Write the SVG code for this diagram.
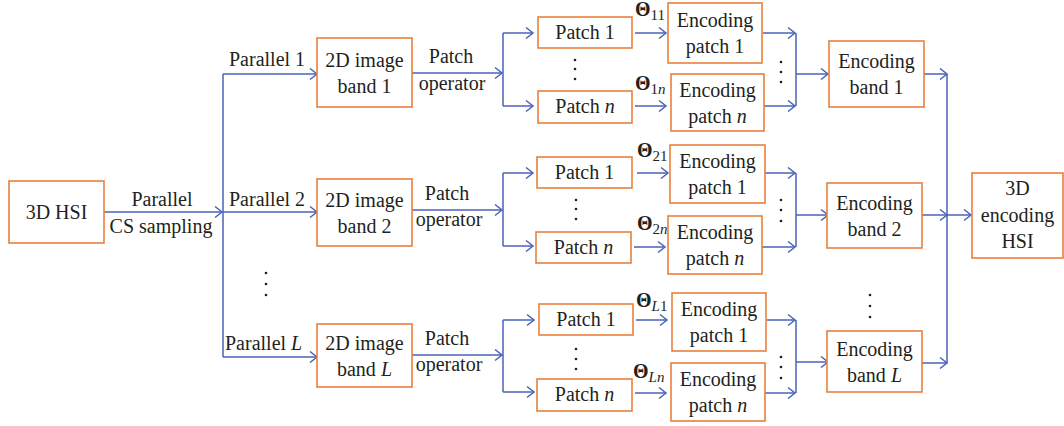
<svg xmlns="http://www.w3.org/2000/svg" width="1064" height="426" viewBox="0 0 1064 426">
<style>
.box{fill:#fff;stroke:#E8803E;stroke-width:1.6}
text{font-family:'Liberation Serif','DejaVu Serif',serif;font-size:20px;fill:#231f20}
.t{text-anchor:middle}
.c{fill:none;stroke:#4A62B8;stroke-width:1.5}
.a{fill:none;stroke:#4A62B8;stroke-width:1.5;marker-end:url(#ah)}
.d{fill:#231f20}
</style>
<defs>
<marker id="ah" markerUnits="userSpaceOnUse" markerWidth="12" markerHeight="14" viewBox="-9 -7 12 14" refX="0" refY="0" orient="auto">
<path d="M-7,-5.5 L0,0 L-7,5.5" fill="none" stroke="#4A62B8" stroke-width="1.5"/>
</marker>
</defs>
<rect width="1064" height="426" fill="#fff"/>

<g id="connectors">
<path class="a" d="M104,212 H222"/>
<path class="c" d="M223,74 V357"/>
<path class="a" d="M223,74 H317"/>
<path class="a" d="M223,212 H317"/>
<path class="a" d="M223,357 H317"/>

<path class="a" d="M412,73 H502"/>
<path class="c" d="M503,33 V106"/>
<path class="a" d="M503,33 H533"/>
<path class="a" d="M503,106 H533"/>
<path class="a" d="M635,33 H666"/>
<path class="a" d="M635,106 H666"/>
<path class="a" d="M763,33 H795"/>
<path class="a" d="M764,106 H795"/>
<path class="c" d="M796,33 V106"/>
<path class="a" d="M796,74 H828"/>
<path class="a" d="M924,74 H947"/>

<path class="a" d="M412,210 H502"/>
<path class="c" d="M503,173 V246"/>
<path class="a" d="M503,173 H533"/>
<path class="a" d="M503,246 H533"/>
<path class="a" d="M637,173 H668"/>
<path class="a" d="M634,247 H665"/>
<path class="a" d="M765,173 H795"/>
<path class="a" d="M762,247 H795"/>
<path class="c" d="M796,173 V247"/>
<path class="a" d="M796,215 H828"/>
<path class="a" d="M922,215 H947"/>

<path class="a" d="M412,355 H502"/>
<path class="c" d="M503,320 V392"/>
<path class="a" d="M503,320 H534"/>
<path class="a" d="M503,392 H534"/>
<path class="a" d="M636,320 H667"/>
<path class="a" d="M635,393 H666"/>
<path class="a" d="M767,320 H795"/>
<path class="a" d="M765,393 H795"/>
<path class="c" d="M796,320 V393"/>
<path class="a" d="M796,362 H828"/>
<path class="a" d="M922,363 H947"/>

<path class="c" d="M947,74 V363"/>
<path class="a" d="M947,215 H971"/>
</g>

<g id="labels">
<text class="t" x="162" y="206">Parallel</text>
<text class="t" x="161" y="233">CS sampling</text>
<text x="229" y="66">Parallel 1</text>
<text x="229" y="206">Parallel 2</text>
<text x="225" y="350">Parallel <tspan font-style="italic">L</tspan></text>
<text class="t" x="451" y="63">Patch</text>
<text class="t" x="452" y="90">operator</text>
<text class="t" x="447" y="200">Patch</text>
<text class="t" x="449" y="226">operator</text>
<text class="t" x="447" y="345">Patch</text>
<text class="t" x="449" y="371">operator</text>
<text x="635" y="16"><tspan font-weight="bold">Θ</tspan><tspan font-size="15" dy="4">11</tspan></text>
<text x="635" y="90"><tspan font-weight="bold">Θ</tspan><tspan font-size="15" dy="4">1<tspan font-style="italic">n</tspan></tspan></text>
<text x="637" y="157"><tspan font-weight="bold">Θ</tspan><tspan font-size="15" dy="4">21</tspan></text>
<text x="637" y="230"><tspan font-weight="bold">Θ</tspan><tspan font-size="15" dy="4">2<tspan font-style="italic">n</tspan></tspan></text>
<text x="636" y="307"><tspan font-weight="bold">Θ</tspan><tspan font-size="15" dy="4"><tspan font-style="italic">L</tspan>1</tspan></text>
<text x="633" y="378"><tspan font-weight="bold">Θ</tspan><tspan font-size="15" dy="4" font-style="italic">Ln</tspan></text>
<g class="d">
<circle cx="266" cy="273" r="1.3"/><circle cx="266" cy="284" r="1.3"/><circle cx="266" cy="295" r="1.3"/>
<circle cx="575" cy="60" r="1.3"/><circle cx="575" cy="69" r="1.3"/><circle cx="575" cy="79" r="1.3"/>
<circle cx="576" cy="200" r="1.3"/><circle cx="576" cy="209" r="1.3"/><circle cx="576" cy="219" r="1.3"/>
<circle cx="576" cy="349" r="1.3"/><circle cx="576" cy="359" r="1.3"/><circle cx="576" cy="369" r="1.3"/>
<circle cx="781" cy="62" r="1.3"/><circle cx="781" cy="72" r="1.3"/><circle cx="781" cy="82" r="1.3"/>
<circle cx="781" cy="200" r="1.3"/><circle cx="781" cy="210" r="1.3"/><circle cx="781" cy="221" r="1.3"/>
<circle cx="781" cy="357" r="1.3"/><circle cx="781" cy="367" r="1.3"/><circle cx="781" cy="378" r="1.3"/>
<circle cx="870" cy="295" r="1.3"/><circle cx="870" cy="306" r="1.3"/><circle cx="870" cy="317" r="1.3"/>
</g>
</g>

<g id="hsi"><rect class="box" x="9" y="181" width="95" height="62"/><text class="t" x="56.5" y="219">3D HSI</text></g>

<g id="img1"><rect class="box" x="317" y="38" width="95" height="69"/><text class="t" x="364.5" y="67">2D image</text><text class="t" x="364.5" y="93">band 1</text></g>
<g id="img2"><rect class="box" x="317" y="179" width="95" height="67"/><text class="t" x="364.5" y="207">2D image</text><text class="t" x="364.5" y="233">band 2</text></g>
<g id="imgL"><rect class="box" x="317" y="324" width="95" height="63"/><text class="t" x="364.5" y="350">2D image</text><text class="t" x="364.5" y="376">band <tspan font-style="italic">L</tspan></text></g>

<g id="p11"><rect class="box" x="538" y="17" width="94" height="31"/><text class="t" x="585" y="39">Patch 1</text></g>
<g id="p1n"><rect class="box" x="538" y="91" width="94" height="32"/><text class="t" x="585" y="113">Patch <tspan font-style="italic">n</tspan></text></g>
<g id="p21"><rect class="box" x="537" y="157" width="95" height="31"/><text class="t" x="584.5" y="179">Patch 1</text></g>
<g id="p2n"><rect class="box" x="536" y="232" width="95" height="31"/><text class="t" x="583.5" y="254">Patch <tspan font-style="italic">n</tspan></text></g>
<g id="pL1"><rect class="box" x="539" y="304" width="94" height="31"/><text class="t" x="586" y="326">Patch 1</text></g>
<g id="pLn"><rect class="box" x="537" y="379" width="95" height="32"/><text class="t" x="584.5" y="401">Patch <tspan font-style="italic">n</tspan></text></g>

<g id="e11"><rect class="box" x="668" y="3" width="94" height="60"/><text class="t" x="715" y="27">Encoding</text><text class="t" x="715" y="53">patch 1</text></g>
<g id="e1n"><rect class="box" x="671" y="74" width="93" height="57"/><text class="t" x="717.5" y="96.5">Encoding</text><text class="t" x="717.5" y="122.5">patch <tspan font-style="italic">n</tspan></text></g>
<g id="e21"><rect class="box" x="670" y="145" width="95" height="58"/><text class="t" x="717.5" y="168">Encoding</text><text class="t" x="717.5" y="194">patch 1</text></g>
<g id="e2n"><rect class="box" x="668" y="216" width="94" height="58"/><text class="t" x="715" y="239">Encoding</text><text class="t" x="715" y="265">patch <tspan font-style="italic">n</tspan></text></g>
<g id="eL1"><rect class="box" x="672" y="293" width="94" height="58"/><text class="t" x="719" y="316">Encoding</text><text class="t" x="719" y="342">patch 1</text></g>
<g id="eLn"><rect class="box" x="671" y="363" width="94" height="58"/><text class="t" x="718" y="386">Encoding</text><text class="t" x="718" y="412">patch <tspan font-style="italic">n</tspan></text></g>

<g id="b1"><rect class="box" x="829" y="41" width="95" height="66"/><text class="t" x="876.5" y="68">Encoding</text><text class="t" x="876.5" y="94">band 1</text></g>
<g id="b2"><rect class="box" x="827" y="183" width="95" height="65"/><text class="t" x="874.5" y="209.5">Encoding</text><text class="t" x="874.5" y="235.5">band 2</text></g>
<g id="bL"><rect class="box" x="827" y="331" width="95" height="61"/><text class="t" x="874.5" y="355.5">Encoding</text><text class="t" x="874.5" y="381.5">band <tspan font-style="italic">L</tspan></text></g>

<g id="out"><rect class="box" x="972" y="173" width="91" height="85"/><text class="t" x="1017.5" y="195">3D</text><text class="t" x="1017.5" y="222">encoding</text><text class="t" x="1017.5" y="248">HSI</text></g>
</svg>
